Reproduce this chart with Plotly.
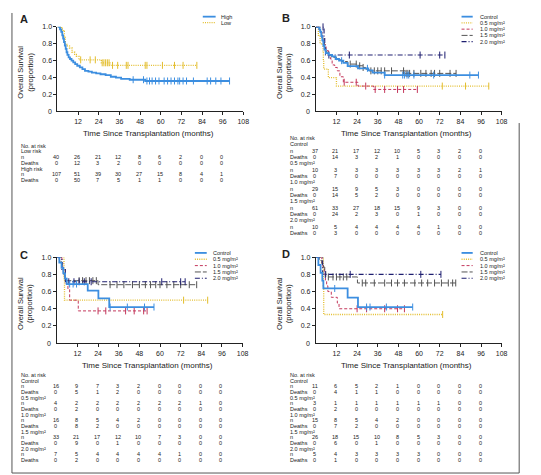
import numpy as np
import plotly.graph_objects as go

# page is rendered with an 8px body margin: the figure starts at page pixel (8, 8)
OFF = 8
W, H = 541 - OFF, 475 - OFF
FONT = "Liberation Sans, Arial, sans-serif"

MONTHS_TICKS = [12, 24, 36, 48, 60, 72, 84, 96, 108]
RISK_MONTHS = [0, 12, 24, 36, 48, 60, 72, 84, 96]

# ---------------- Panel A data ----------------
A_high_t = [0, 1.5, 2.2, 2.8, 3.3, 3.8, 4.3, 4.8, 5.3, 5.8, 6.5, 7.3, 8.2, 9.2, 10.3, 11.5, 13, 14.5, 16, 18, 20, 22.5, 25, 28, 31, 34, 37, 42, 51]
A_high_s = [1.0, 0.97, 0.94, 0.9, 0.86, 0.82, 0.78, 0.74, 0.7, 0.67, 0.64, 0.62, 0.6, 0.58, 0.56, 0.54, 0.52, 0.5, 0.48, 0.47, 0.46, 0.45, 0.44, 0.43, 0.41, 0.40, 0.385, 0.375, 0.36]
A_high_end = 100
A_high_cens = [44, 50, 52, 53.5, 55, 57, 59, 62, 64, 66, 68, 70, 71, 73, 75, 79, 87, 89, 92, 95, 100]

A_low_t = [0, 2.5, 3.3, 4.0, 4.6, 5.5, 7, 8.5, 10, 11, 12.5, 25.5, 30.5]
A_low_s = [1.0, 0.975, 0.95, 0.875, 0.8, 0.775, 0.75, 0.7, 0.675, 0.65, 0.61, 0.575, 0.545]
A_low_end = 81
A_low_cens = [13.5, 19, 22, 26, 27, 28, 29, 30, 32, 35, 40, 41, 51, 52, 61, 68, 73, 81]

A_groups = ["Low risk", "High risk"]
A_n = [[40, 26, 21, 12, 8, 6, 2, 0, 0], [107, 51, 39, 30, 27, 15, 8, 4, 1]]
A_deaths = [[0, 12, 3, 2, 0, 0, 0, 0, 0], [0, 50, 7, 5, 1, 1, 0, 0, 0]]

# ---------------- Panel B data ----------------
B_ctrl_t = [0, 2, 2.6, 3.2, 3.8, 4.4, 5, 5.8, 7.5, 9.5, 11.5, 13.5, 16, 18.5, 24.5, 30.5, 33, 40]
B_ctrl_s = [1.0, 0.97, 0.94, 0.89, 0.84, 0.78, 0.73, 0.69, 0.67, 0.65, 0.62, 0.6, 0.575, 0.535, 0.51, 0.485, 0.46, 0.43]
B_ctrl_end = 94.5
B_ctrl_cens = [15, 30, 40, 50.5, 51.5, 53, 54, 57, 68.5, 89.5, 94.5]

B_05_t = [0, 1.5, 2.5, 4.2, 4.4, 4.6, 7.3, 12]
B_05_s = [1.0, 0.9, 0.8, 0.7, 0.6, 0.5, 0.4, 0.3]
B_05_end = 100.5
B_05_cens = [73.5, 87, 100.5]

B_10_t = [0, 2, 3, 4, 5, 6, 7.3, 8.5, 9.5, 11, 12.5, 14, 16, 24.5, 33.5]
B_10_s = [1.0, 0.965, 0.93, 0.86, 0.79, 0.72, 0.66, 0.62, 0.55, 0.52, 0.48, 0.41, 0.345, 0.30, 0.26]
B_10_end = 59
B_10_cens = [16.5, 23.5, 29, 34.5, 40, 47.5, 51, 59]

B_15_t = [0, 2, 2.8, 3.5, 4.2, 5, 5.8, 6.5, 9, 12, 15, 18.5, 24.5, 27.5, 29, 31, 52]
B_15_s = [1.0, 0.97, 0.93, 0.87, 0.82, 0.76, 0.71, 0.67, 0.64, 0.61, 0.59, 0.56, 0.54, 0.52, 0.5, 0.48, 0.45]
B_15_end = 81.5
B_15_cens = [20, 23.5, 25.5, 27.5, 32, 34, 36, 38, 40, 44, 51, 52.5, 53.5, 54.5, 57, 61, 64, 67, 69, 72, 78, 81.5]

B_20_t = [0, 4.8, 5.2, 5.6]
B_20_s = [1.0, 0.889, 0.778, 0.667]
B_20_end = 75
B_20_cens = [4.2, 7.6, 19.5, 60.6, 72, 75]

DOSE_GROUPS = ["Control", "0.5 mg/m²", "1.0 mg/m²", "1.5 mg/m²", "2.0 mg/m²"]
B_n = [[37, 21, 17, 12, 10, 5, 3, 2, 0], [10, 3, 3, 3, 3, 3, 3, 2, 1], [29, 15, 9, 5, 3, 0, 0, 0, 0],
       [61, 33, 27, 18, 15, 9, 3, 0, 0], [10, 5, 4, 4, 4, 4, 1, 0, 0]]
B_deaths = [[0, 14, 3, 2, 1, 0, 0, 0, 0], [0, 7, 0, 0, 0, 0, 0, 0, 0], [0, 14, 5, 2, 0, 0, 0, 0, 0],
            [0, 24, 2, 3, 0, 1, 0, 0, 0], [0, 3, 0, 0, 0, 0, 0, 0, 0]]

# ---------------- Panel C data ----------------
C_ctrl_t = [0, 1.5, 2.8, 3.8, 4.8, 5.8, 18, 24.2, 30.5]
C_ctrl_s = [1.0, 0.9375, 0.875, 0.8125, 0.75, 0.6875, 0.61, 0.52, 0.42]
C_ctrl_end = 56.5
C_ctrl_cens = [7.5, 9.5, 11.5, 31, 41, 51, 56.5]

C_05_t = [0, 4.2, 4.5]
C_05_s = [1.0, 0.75, 0.5]
C_05_end = 87.7
C_05_cens = [73.7, 87.7]

C_10_t = [0, 3, 3.5, 4, 4.5, 5.5, 6.5, 7.5, 12.5]
C_10_s = [1.0, 0.9375, 0.875, 0.8125, 0.75, 0.6875, 0.625, 0.5, 0.375]
C_10_end = 52.5
C_10_cens = [24, 28.5, 40, 45, 50.5, 52.5]

C_15_t = [0, 1.5, 2.5, 3.2, 3.8, 4.3, 4.8, 5.3, 24]
C_15_s = [1.0, 0.97, 0.94, 0.88, 0.82, 0.79, 0.76, 0.727, 0.68]
C_15_end = 81.3
C_15_cens = [13, 15, 17, 19, 21, 23, 31, 35, 39, 44, 48, 51.5, 54.5, 57.5, 60, 64, 68, 72, 77, 81.3]

C_20_t = [0, 3, 5]
C_20_s = [1.0, 0.857, 0.714]
C_20_end = 74.6
C_20_cens = [7, 10, 13, 16, 20, 61, 72, 74.6]

C_n = [[16, 9, 7, 3, 2, 0, 0, 0, 0], [4, 2, 2, 2, 2, 2, 2, 1, 0], [16, 8, 5, 4, 2, 0, 0, 0, 0],
       [33, 21, 17, 12, 10, 7, 3, 0, 0], [7, 5, 4, 4, 4, 4, 1, 0, 0]]
C_deaths = [[0, 5, 1, 2, 0, 0, 0, 0, 0], [0, 2, 0, 0, 0, 0, 0, 0, 0], [0, 8, 2, 0, 0, 0, 0, 0, 0],
            [0, 9, 0, 1, 0, 0, 0, 0, 0], [0, 2, 0, 0, 0, 0, 0, 0, 0]]

# ---------------- Panel D data ----------------
D_ctrl_t = [0, 1.5, 2.8, 3.8, 4.4, 18.5, 24.5]
D_ctrl_s = [1.0, 0.909, 0.818, 0.727, 0.636, 0.53, 0.42]
D_ctrl_end = 56.3
D_ctrl_cens = [11, 29.5, 31.5, 41, 56.3]

D_05_t = [0, 4.4, 4.6]
D_05_s = [1.0, 0.667, 0.333]
D_05_end = 73.7
D_05_cens = [73.7]

D_10_t = [0, 3.5, 4.2, 5, 5.6, 6.3, 7, 9, 12.5, 13.5]
D_10_s = [1.0, 0.933, 0.867, 0.8, 0.733, 0.667, 0.6, 0.533, 0.467, 0.4]
D_10_end = 51.5
D_10_cens = [24, 29.5, 40, 47.5, 51.5]

D_15_t = [0, 2, 3.5, 4.5, 5.2, 5.8, 24.2]
D_15_s = [1.0, 0.962, 0.923, 0.885, 0.846, 0.77, 0.70]
D_15_end = 81.3
D_15_cens = [7.3, 10, 12, 14, 16, 18, 27, 29, 34, 40, 44, 47.5, 51.5, 57.5, 61.5, 65, 69, 73, 77, 79.5, 81.3]

D_20_t = [0, 4]
D_20_s = [1.0, 0.8]
D_20_end = 72.7
D_20_cens = [5.5, 20, 61, 72.7]

D_n = [[11, 6, 5, 2, 1, 0, 0, 0, 0], [3, 1, 1, 1, 1, 1, 1, 0, 0], [15, 8, 5, 4, 2, 0, 0, 0, 0],
       [26, 18, 15, 10, 8, 5, 3, 0, 0], [5, 4, 3, 3, 3, 3, 0, 0, 0]]
D_deaths = [[0, 4, 1, 1, 0, 0, 0, 0, 0], [0, 2, 0, 0, 0, 0, 0, 0, 0], [0, 7, 2, 0, 0, 0, 0, 0, 0],
            [0, 6, 0, 1, 0, 0, 0, 0, 0], [0, 1, 0, 0, 0, 0, 0, 0, 0]]

# ---------------- styles ----------------
BLUE = "#3c8ee0"
YELLOW = "#e3bd2c"
CRIMSON = "#c4385c"
GRAY = "#555555"
NAVY = "#1f1f70"

STYLE = {
    "High": (BLUE, "solid", 1.8),
    "Low": (YELLOW, "1px,1.2px", 1.3),
    "Control": (BLUE, "solid", 1.8),
    "0.5 mg/m²": (YELLOW, "1px,1.2px", 1.3),
    "1.0 mg/m²": (CRIMSON, "3px,2px", 1.0),
    "1.5 mg/m²": (GRAY, "6px,2px", 1.0),
    "2.0 mg/m²": (NAVY, "5px,2px,1px,2px", 1.1),
}


def px(x):
    return (x - OFF) / W


def py(y):
    return 1 - (y - OFF) / H


fig = go.Figure()

# axes geometry in page pixels: (x0, x1, ybottom, ytop)
PANELS = {
    "A": (58.0, 246.0, 108.3, 23.0),
    "B": (319.3, 507.3, 108.3, 23.0),
    "C": (57.3, 245.3, 342.0, 255.3),
    "D": (319.3, 507.3, 342.0, 255.3),
}
AX = {"A": ("x", "y"), "B": ("x2", "y2"), "C": ("x3", "y3"), "D": ("x4", "y4")}

for i, (k, (x0, x1, yb, yt)) in enumerate(PANELS.items()):
    sfx = "" if i == 0 else str(i + 1)
    axis_common = dict(showline=True, linecolor="#222", linewidth=1, ticks="outside", ticklen=3,
                       tickwidth=1, tickcolor="#222", showgrid=False, zeroline=False,
                       tickfont=dict(family=FONT, size=7, color="#222"))
    fig.layout["xaxis" + sfx] = dict(domain=[px(x0), px(x1)], range=[0, 108], tickvals=MONTHS_TICKS,
                                     anchor="y" + sfx, **axis_common)
    fig.layout["yaxis" + sfx] = dict(domain=[py(yb), py(yt)], range=[0, 1.0],
                                     tickvals=[0.2, 0.4, 0.6, 0.8, 1.0],
                                     ticktext=["0.2", "0.4", "0.6", "0.8", "1.0"],
                                     anchor="x" + sfx, **axis_common)


def add_curve(panel, name, t, s, end, cens):
    color, dash, width = STYLE[name]
    xa, ya = AX[panel]
    xs = list(t) + [end]
    ys = list(s) + [s[-1]]
    fig.add_trace(go.Scatter(x=xs, y=ys, mode="lines", line=dict(color=color, dash=dash, width=width, shape="hv"),
                             xaxis=xa, yaxis=ya, showlegend=False, cliponaxis=False, name=name,
                             hoverinfo="skip"))
    tt = np.array(t)
    cy = [s[int(np.searchsorted(tt, c, side="right")) - 1] for c in cens]
    fig.add_trace(go.Scatter(x=cens, y=cy, mode="markers",
                             marker=dict(symbol="line-ns", size=5, line=dict(color=color, width=1)),
                             xaxis=xa, yaxis=ya, showlegend=False, cliponaxis=False, name=name,
                             hoverinfo="skip"))


add_curve("A", "Low", A_low_t, A_low_s, A_low_end, A_low_cens)
add_curve("A", "High", A_high_t, A_high_s, A_high_end, A_high_cens)

B_curves = [(B_05_t, B_05_s, B_05_end, B_05_cens), (B_10_t, B_10_s, B_10_end, B_10_cens),
            (B_15_t, B_15_s, B_15_end, B_15_cens), (B_20_t, B_20_s, B_20_end, B_20_cens),
            (B_ctrl_t, B_ctrl_s, B_ctrl_end, B_ctrl_cens)]
C_curves = [(C_05_t, C_05_s, C_05_end, C_05_cens), (C_10_t, C_10_s, C_10_end, C_10_cens),
            (C_15_t, C_15_s, C_15_end, C_15_cens), (C_20_t, C_20_s, C_20_end, C_20_cens),
            (C_ctrl_t, C_ctrl_s, C_ctrl_end, C_ctrl_cens)]
D_curves = [(D_05_t, D_05_s, D_05_end, D_05_cens), (D_10_t, D_10_s, D_10_end, D_10_cens),
            (D_15_t, D_15_s, D_15_end, D_15_cens), (D_20_t, D_20_s, D_20_end, D_20_cens),
            (D_ctrl_t, D_ctrl_s, D_ctrl_end, D_ctrl_cens)]
ORDER = ["0.5 mg/m²", "1.0 mg/m²", "1.5 mg/m²", "2.0 mg/m²", "Control"]
for panel, curves in (("B", B_curves), ("C", C_curves), ("D", D_curves)):
    for name, c in zip(ORDER, curves):
        add_curve(panel, name, *c)

ann = []
shapes = []


def text(x, y, s, size=5.5, xanchor="left", bold=False, xref="paper", angle=0, xshift=0):
    ann.append(dict(x=x, y=y, xref=xref, yref="paper", text=("<b>%s</b>" % s) if bold else s,
                    showarrow=False, xanchor=xanchor, yanchor="middle", textangle=angle, xshift=xshift,
                    font=dict(family=FONT, size=size, color="#222")))


# panel letters
for k, (x, y) in {"A": (20, 15), "B": (285, 14), "C": (20, 252.7), "D": (285, 251.7)}.items():
    text(px(x) - 0.004, py(y), k, size=11, bold=True)

# y titles, x titles, corner zeros
for k, (x0, x1, yb, yt) in PANELS.items():
    text(px(x0 - 32.3), py((yb + yt) / 2 + 3), "Overall Survival<br>(proportion)", size=7.5, xanchor="center",
         angle=-90)
    text(px((x0 + x1) / 2 - 2), py(yb + 22.5), "Time Since Transplantation (months)", size=8, xanchor="center")
    text(px(x0 - 8), py(yb), "0", size=7, xanchor="center")


# legends
def legend(names, lx0, lx1, tx, y0, dy):
    for j, nm in enumerate(names):
        color, dash, width = STYLE[nm]
        yy = py(y0 + j * dy)
        shapes.append(dict(type="line", xref="paper", yref="paper", x0=px(lx0), x1=px(lx1), y0=yy, y1=yy,
                           line=dict(color=color, dash=dash, width=width)))
        text(px(tx), yy, nm, size=5.5)


legend(["High", "Low"], 205, 218, 221.5, 12.7, 6.0)
legend(DOSE_GROUPS, 466.7, 478, 483, 12.7, 6.3)
legend(DOSE_GROUPS, 197, 209, 213, 251, 6.4)
legend(DOSE_GROUPS, 466.7, 478, 483, 251, 6.4)


# risk tables
def risk_table(panel, groups, n, deaths, lx, y0, dy):
    xa = AX[panel][0]
    text(px(lx), py(y0), "No. at risk")
    row = 1
    for g, nn, dd in zip(groups, n, deaths):
        text(px(lx), py(y0 + row * dy), g)
        text(px(lx), py(y0 + (row + 1) * dy), "n")
        text(px(lx), py(y0 + (row + 2) * dy), "Deaths")
        for m, v1, v2 in zip(RISK_MONTHS, nn, dd):
            text(m, py(y0 + (row + 1) * dy), str(v1), xanchor="center", xref=xa, xshift=-1)
            text(m, py(y0 + (row + 2) * dy), str(v2), xanchor="center", xref=xa, xshift=-1)
        row += 3


risk_table("A", A_groups, A_n, A_deaths, 19, 142.7, 5.8)
risk_table("B", DOSE_GROUPS, B_n, B_deaths, 290.7, 135.0, 6.4)
risk_table("C", DOSE_GROUPS, C_n, C_deaths, 19, 374.3, 5.7)
risk_table("D", DOSE_GROUPS, D_n, D_deaths, 290.7, 374.3, 5.7)

# frame
FR = dict(color="#555", width=1)
shapes.append(dict(type="line", xref="paper", yref="paper", x0=px(12), x1=px(12), y0=py(9), y1=py(473), line=FR))
shapes.append(dict(type="line", xref="paper", yref="paper", x0=px(12), x1=px(525), y0=py(473), y1=py(473), line=FR))
shapes.append(dict(type="line", xref="paper", yref="paper", x0=px(525), x1=px(525), y0=py(120), y1=py(473), line=FR))

fig.update_layout(width=W, height=H, margin=dict(l=0, r=0, t=0, b=0), plot_bgcolor="white",
                  paper_bgcolor="white", showlegend=False, annotations=ann, shapes=shapes,
                  font=dict(family=FONT))

fig.write_html("out.html")
